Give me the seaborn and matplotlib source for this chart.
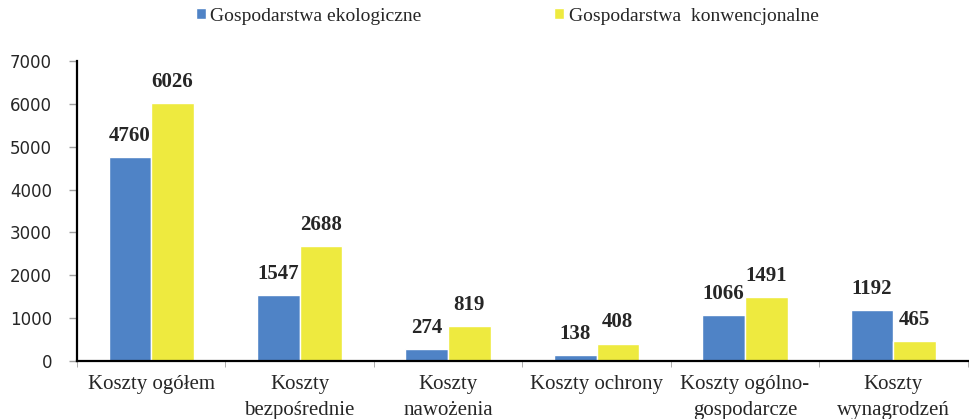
import numpy as np
import pandas as pd
import matplotlib
matplotlib.use("Agg")
import matplotlib.pyplot as plt
import seaborn as sns

categories = ["Koszty ogółem", "Koszty\nbezpośrednie", "Koszty\nnawożenia",
              "Koszty ochrony", "Koszty ogólno-\ngospodarcze", "Koszty\nwynagrodzeń"]
series = ["Gospodarstwa ekologiczne", "Gospodarstwa  konwencjonalne"]
eko = [4760, 1547, 274, 138, 1066, 1192]
konw = [6026, 2688, 819, 408, 1491, 465]
colors = ["#4F83C6", "#EEEA3F"]

df = pd.DataFrame({
    "kat": categories * 2,
    "typ": [series[0]] * 6 + [series[1]] * 6,
    "val": eko + konw,
})

sns.set_style("white")
plt.rcParams["font.family"] = ["Liberation Serif", "DejaVu Serif"]

fig = plt.figure(figsize=(9.69, 4.19), dpi=100)
ax = fig.add_axes([0.0795, 0.1384, 0.919, 0.716])

sns.barplot(data=df, x="kat", y="val", hue="typ", palette=colors,
            width=0.575, saturation=1, ax=ax, legend=True)

for cont in ax.containers:
    ax.bar_label(cont, labels=[f"{int(v)}" for v in cont.datavalues],
                 padding=8, fontsize=15, fontweight="bold")

ax.set_ylim(0, 7000)
ax.set_yticks(range(0, 7001, 1000))
ax.set_yticklabels([str(v) for v in range(0, 7001, 1000)], family="DejaVu Sans", fontsize=12)
ax.set_xlim(-0.5, 5.5)
ax.set_xlabel("")
ax.set_ylabel("")
ax.tick_params(axis="y", length=6, width=1, color="#a0a0a0", direction="out", left=True, pad=12)
ax.tick_params(axis="x", labelsize=15, length=0, pad=10)
for t in ax.get_xticklabels():
    t.set_linespacing(1.5)
# category boundary ticks like the original
ax.set_xticks(np.arange(-0.5, 6.0, 1.0), minor=True)
ax.tick_params(axis="x", which="minor", length=4, color="#a0a0a0", bottom=True)

for s in ["top", "right"]:
    ax.spines[s].set_visible(False)
for s in ["left", "bottom"]:
    ax.spines[s].set_color("black")
    ax.spines[s].set_linewidth(1.6)

leg = ax.legend(loc="center", bbox_to_anchor=(0.483, 1.15), ncol=2, frameon=False,
                fontsize=14, handlelength=0.5, handleheight=0.5, columnspacing=6.8,
                handletextpad=0.25)

fig.savefig("out.png", dpi=100)
